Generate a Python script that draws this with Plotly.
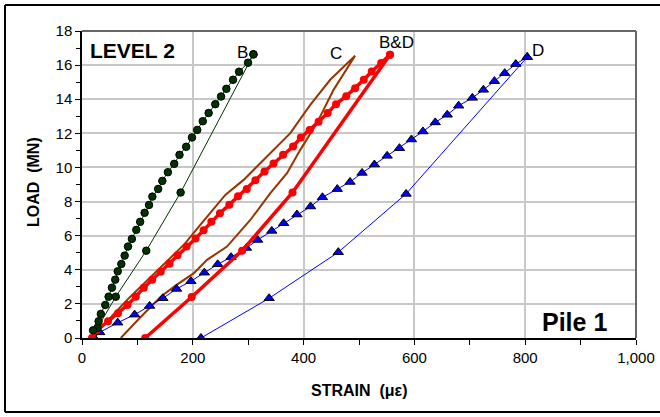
import plotly.graph_objects as go

# Series B (level 2, loading + unloading)
b_load_x = [20, 30, 34, 42, 48, 54, 60, 64.5, 71, 77, 83, 90, 98, 105, 113, 121, 127, 137.5, 145, 155, 166.5, 176, 188, 198.5, 208, 218, 228.6, 240.6, 251, 260.6, 272.6, 283.5, 299.7, 309.5]
b_load_y = [0.45, 0.98, 1.41, 1.94, 2.42, 2.95, 3.42, 3.91, 4.34, 4.83, 5.36, 5.81, 6.34, 6.81, 7.34, 7.8, 8.29, 8.74, 9.21, 9.72, 10.21, 10.74, 11.21, 11.76, 12.2, 12.71, 13.19, 13.71, 14.16, 14.61, 15.14, 15.61, 16.14, 16.63]
b_unl_x = [309.5, 178, 116, 61, 28]
b_unl_y = [16.63, 8.53, 5.12, 2.42, 0.6]

# Series C (no markers)
c_load_x = [18, 40, 60, 85, 110, 135, 160, 185, 213.5, 240, 258.7, 291.7, 340, 376, 412, 448, 493]
c_load_y = [0, 0.8, 1.5, 2.35, 3.15, 3.95, 4.75, 5.5, 6.63, 7.7, 8.39, 9.27, 10.84, 12.01, 13.67, 15.14, 16.55]
c_unl_x = [493, 454, 424, 394, 370, 340, 303.8, 261.7, 225.6, 202, 170, 142, 105, 70]
c_unl_y = [16.55, 14.55, 12.6, 11.03, 9.66, 8.49, 6.92, 5.36, 4.58, 3.8, 3.1, 2.42, 1.2, 0]

# Series B&D (red)
bd_load_x = [18, 26, 47, 65, 82, 97, 111.5, 126.7, 142, 158, 172.5, 188.8, 205, 219.5, 233.5, 249, 266, 281.6, 297.4, 313, 329.4, 345.7, 363, 381, 395, 410.9, 427, 443.4, 458.5, 477, 493, 508.6, 523, 540, 556]
bd_load_y = [0, 0.45, 0.98, 1.45, 1.94, 2.42, 2.95, 3.42, 3.89, 4.36, 4.85, 5.36, 5.83, 6.32, 6.81, 7.32, 7.82, 8.31, 8.74, 9.25, 9.76, 10.23, 10.74, 11.23, 11.75, 12.19, 12.68, 13.19, 13.71, 14.18, 14.65, 15.14, 15.63, 16.12, 16.61]
bd_unl_x = [556, 380, 289, 198, 114]
bd_unl_y = [16.61, 8.53, 5.12, 2.4, 0]

# Series D (blue triangles)
d_load_x = [22, 32, 64.5, 95, 122, 146, 170.7, 196.6, 220.8, 245, 269, 296.8, 317, 342.6, 364, 388, 412.6, 434, 460.8, 483.8, 505.5, 527.8, 550.8, 573, 594.7, 615.4, 637.6, 659.3, 679.8, 704.6, 724.5, 744.4, 763, 783, 803.6]
d_load_y = [0, 0.33, 0.9, 1.37, 1.88, 2.33, 2.88, 3.33, 3.83, 4.32, 4.74, 5.28, 5.75, 6.28, 6.73, 7.24, 7.71, 8.25, 8.73, 9.15, 9.68, 10.17, 10.68, 11.13, 11.64, 12.11, 12.64, 13.09, 13.62, 14.08, 14.55, 15.06, 15.53, 16.06, 16.47]
d_unl_x = [803.6, 585, 462.6, 337.8, 214.7]
d_unl_y = [16.47, 8.45, 5.03, 2.33, 0]

labels = ["B", "C", "B&D", "D"]
label_x = [289, 459, 568, 823]
label_y = [16.75, 16.67, 17.34, 16.84]

x_ticks = [0, 200, 400, 600, 800, 1000]
y_ticks = [0, 2, 4, 6, 8, 10, 12, 14, 16, 18]

GREEN = "#003300"
BROWN = "#993300"
RED = "#ff0000"
BLUE = "#0000ff"
FONT = "Arial, Liberation Sans, sans-serif"

fig = go.Figure()

# C
fig.add_trace(go.Scatter(x=c_load_x + c_unl_x[1:], y=c_load_y + c_unl_y[1:], mode="lines",
                         line=dict(color=BROWN, width=2), hoverinfo="skip"))
# D
fig.add_trace(go.Scatter(x=d_unl_x, y=d_unl_y, mode="lines+markers",
                         line=dict(color=BLUE, width=1),
                         marker=dict(symbol="triangle-up", size=9, color=BLUE, line=dict(color="black", width=1))))
fig.add_trace(go.Scatter(x=d_load_x, y=d_load_y, mode="lines+markers",
                         line=dict(color=BLUE, width=1),
                         marker=dict(symbol="triangle-up", size=9, color=BLUE, line=dict(color="black", width=1))))
# B&D
fig.add_trace(go.Scatter(x=bd_unl_x, y=bd_unl_y, mode="lines+markers",
                         line=dict(color=RED, width=3.5),
                         marker=dict(symbol="circle", size=8, color=RED)))
fig.add_trace(go.Scatter(x=bd_load_x, y=bd_load_y, mode="lines+markers",
                         line=dict(color=RED, width=3.5),
                         marker=dict(symbol="circle", size=8, color=RED)))
# B
fig.add_trace(go.Scatter(x=b_unl_x, y=b_unl_y, mode="lines+markers",
                         line=dict(color=GREEN, width=1),
                         marker=dict(symbol="circle", size=7.5, color=GREEN, line=dict(color="black", width=1))))
fig.add_trace(go.Scatter(x=b_load_x, y=b_load_y, mode="lines+markers",
                         line=dict(color=GREEN, width=1),
                         marker=dict(symbol="circle", size=7.5, color=GREEN, line=dict(color="black", width=1))))

for t, lx, ly in zip(labels, label_x, label_y):
    fig.add_annotation(x=lx, y=ly, text=t, showarrow=False, xref="x", yref="y",
                       font=dict(family=FONT, size=17, color="black"))

fig.add_annotation(x=(88 - 82) / 554, y=(338 - 50) / 307, xref="paper", yref="paper", text="<b>LEVEL 2</b>",
                   showarrow=False, xanchor="left", yanchor="middle",
                   font=dict(family=FONT, size=21, color="black"))
fig.add_annotation(x=(609 - 82) / 554, y=(338 - 322) / 307, xref="paper", yref="paper", text="<b>Pile 1</b>",
                   showarrow=False, xanchor="right", yanchor="middle",
                   font=dict(family=FONT, size=25, color="black"))

# axis titles
fig.add_annotation(x=(359 - 82) / 554, y=(338 - 390) / 307, xref="paper", yref="paper",
                   text="<b>STRAIN  (με)</b>", showarrow=False, xanchor="center", yanchor="middle",
                   font=dict(family=FONT, size=16, color="black"))
fig.add_annotation(x=(33 - 82) / 554, y=(338 - 182) / 307, xref="paper", yref="paper",
                   text="<b>LOAD  (MN)</b>", showarrow=False, xanchor="center", yanchor="middle", textangle=-90,
                   font=dict(family=FONT, size=16, color="black"))

# grey frame top/right
fig.add_shape(type="line", xref="paper", yref="paper", x0=0, x1=1, y0=1, y1=1, line=dict(color="#666666", width=2))
fig.add_shape(type="line", xref="paper", yref="paper", x0=1, x1=1, y0=0, y1=1, line=dict(color="#666666", width=2))

fig.update_layout(
    width=660, height=417,
    margin=dict(l=82, r=24, t=31, b=79),
    paper_bgcolor="white", plot_bgcolor="white",
    showlegend=False,
    font=dict(family=FONT, size=15, color="black"),
    xaxis=dict(range=[0, 1000], tickvals=x_ticks, tickformat=",", showgrid=True, gridcolor="#c8c8c8", gridwidth=1.5,
               zeroline=False, showline=True, linecolor="black", linewidth=1.5, automargin=False,
               ticks="outside", ticklen=5, tickcolor="black", tickfont=dict(size=15),
               minor=dict(dtick=100, ticks="outside", ticklen=5, tickcolor="black", showgrid=False)),
    yaxis=dict(range=[0, 18], tickvals=y_ticks, showgrid=True, gridcolor="#c8c8c8", gridwidth=1.5,
               zeroline=False, showline=True, linecolor="black", linewidth=1.5, automargin=False,
               ticks="outside", ticklen=5, tickcolor="black", tickfont=dict(size=15),
               minor=dict(dtick=1, ticks="outside", ticklen=4, tickcolor="black", showgrid=False)),
)

# outer border: top, left, bottom edges (right edge is outside the picture)
bx0, bx1 = (5 - 82) / 554, (660 - 82) / 554
by0, by1 = (338 - 412) / 307, (338 - 5) / 307
for (xa, ya, xb, yb) in [(bx0, by1, bx1, by1), (bx0, by0, bx0, by1), (bx0, by0, bx1, by0)]:
    fig.add_shape(type="line", xref="paper", yref="paper", x0=xa, y0=ya, x1=xb, y1=yb,
                  line=dict(color="black", width=2), layer="above")

fig.write_html("out.html", config={"displayModeBar": False},
               post_script="document.body.style.margin='0';document.body.style.overflow='hidden';")
